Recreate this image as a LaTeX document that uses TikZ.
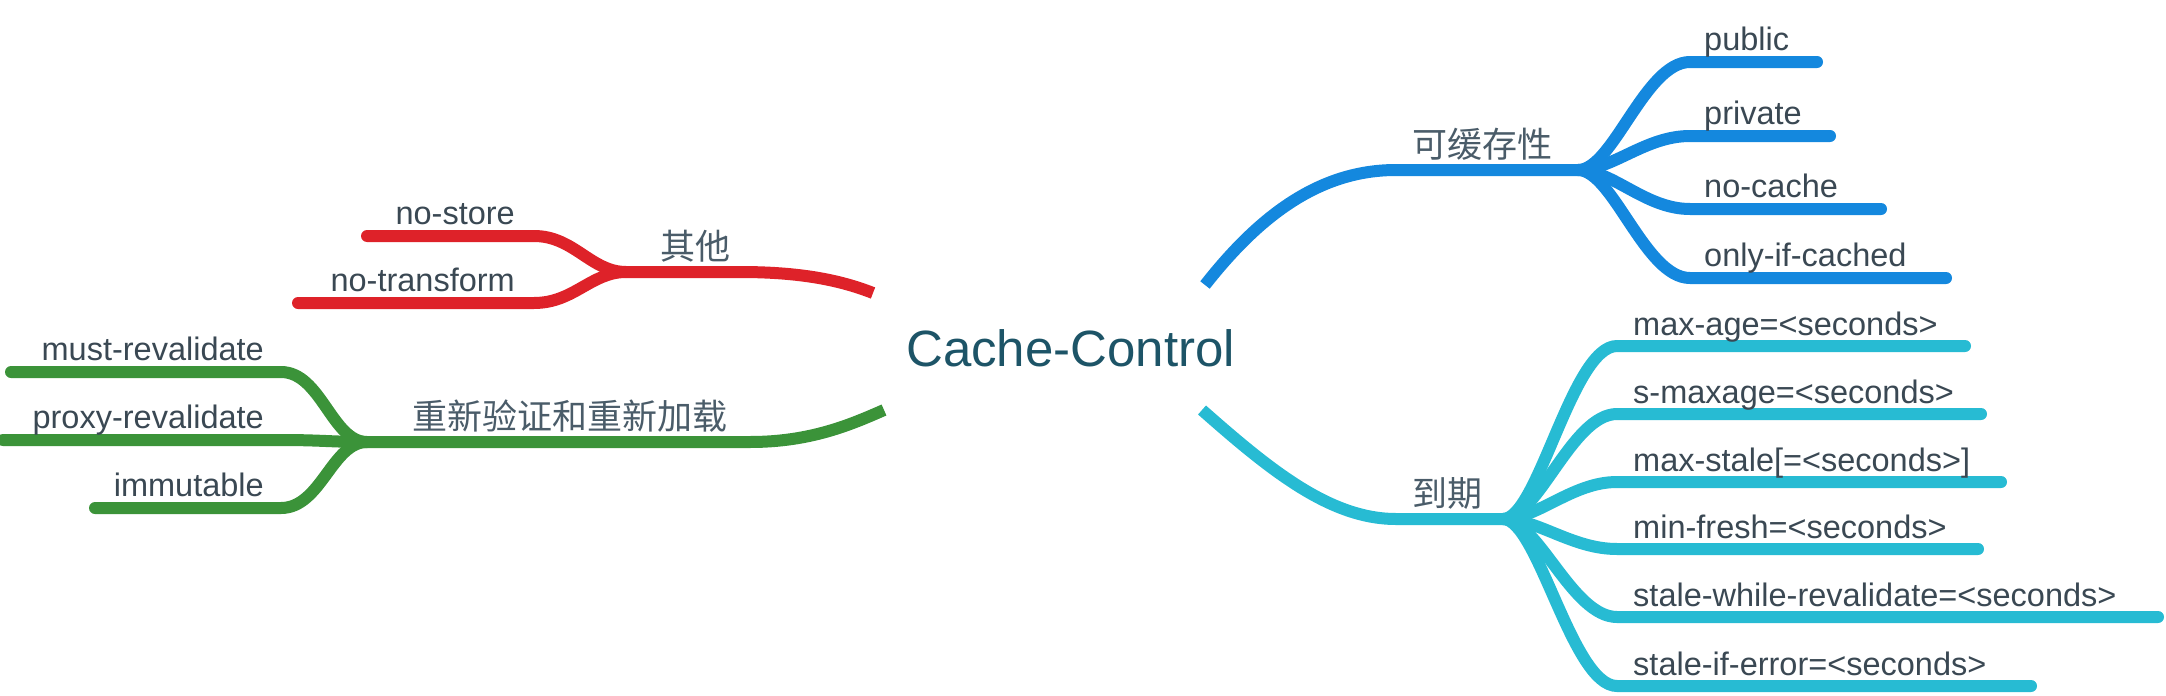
\documentclass[tikz,border=0pt]{standalone}
\usepackage{fontspec}
\setmainfont{Liberation Sans}
\newfontfamily\cjkfont{Noto Sans CJK SC}

\definecolor{cblue}{HTML}{1488DE}
\definecolor{cteal}{HTML}{27BBD3}
\definecolor{cred}{HTML}{DE2229}
\definecolor{cgreen}{HTML}{3B9339}
\definecolor{leaftext}{HTML}{3A4853}
\definecolor{topictext}{HTML}{4A5C69}
\definecolor{roottext}{HTML}{1D5467}

\tikzset{
    branch/.style={line width=12pt, line cap=round},
    trunk/.style={line width=12pt, line cap=butt},
    leaf/.style={font=\fontsize{32.5}{38}\selectfont, text=leaftext, inner sep=0pt},
    topic/.style={font=\cjkfont\fontsize{35}{40}\selectfont, text=topictext, inner sep=0pt},
}

\begin{document}
\begin{tikzpicture}[x=1pt, y=-1pt]
        \useasboundingbox (0,0) rectangle (2166,696);
        % root
        \node[font=\fontsize{51}{58}\selectfont, text=roottext, inner sep=0pt, anchor=base west] (root) at (906,366) {Cache-Control};
        \coordinate (rb) at (1205,285);
        \coordinate (rt) at (1202,410);
        \coordinate (rr) at (873,293);
        \coordinate (rg) at (884,410);
        \coordinate (jb) at (1578,170);
        \coordinate (jt) at (1503,519);
        \coordinate (jr) at (626,272);
        \coordinate (jg) at (367,442);
        % trunks
        \draw[trunk, cblue] (rb) .. controls (1260,215) and (1320,170) .. (1396,170) -- (jb);
        \draw[trunk, cteal] (rt) .. controls (1270,470) and (1330,519) .. (1396,519) -- (jt);
        \draw[trunk, cred] (rr) .. controls (840,280) and (800,272) .. (740,272) -- (jr);
        \draw[trunk, cgreen] (rg) .. controls (850,425) and (810,442) .. (750,442) -- (jg);
        % topics
        \node[topic, anchor=base west] (tb) at (1412,157) {可缓存性};
        \node[topic, anchor=base west] (tt) at (1412,506) {到期};
        \node[topic, anchor=base west] (tr) at (660,259) {其他};
        \node[topic, anchor=base west] (tg) at (412,429) {重新验证和重新加载};
        % leaves
        \foreach \txt/\y/\e [count=\i] in {public/62/1817, private/136/1830, no-cache/209/1881, only-if-cached/278/1946} {
            \draw[branch, cblue] (jb) .. controls +(35,0) and +(-45,0) .. (1690,\y) coordinate (b\i) -- (\e,\y);
            \node[leaf, anchor=base west] (lb\i) at (1704,\y-12) {\txt};
        }
        \foreach \txt/\y/\e [count=\i] in {max-age=<seconds>/346/1965, s-maxage=<seconds>/414/1981, max-stale{[}=<seconds>{]}/482/2001, min-fresh=<seconds>/549/1978, stale-while-revalidate=<seconds>/617/2158, stale-if-error=<seconds>/686/2031} {
            \draw[branch, cteal] (jt) .. controls +(35,0) and +(-45,0) .. (1617,\y) coordinate (t\i) -- (\e,\y);
            \node[leaf, anchor=base west] (lt\i) at (1633,\y-11) {\txt};
        }
        \foreach \txt/\y/\e [count=\i] in {no-store/236/367, no-transform/303/298} {
            \draw[branch, cred] (jr) .. controls +(-35,0) and +(40,0) .. (534,\y) coordinate (r\i) -- (\e,\y);
            \node[leaf, anchor=base east] (lr\i) at (515,\y-12) {\txt};
        }
        \foreach \txt/\y/\e [count=\i] in {must-revalidate/372/11, proxy-revalidate/440/3, immutable/508/95} {
            \draw[branch, cgreen] (jg) .. controls +(-35,0) and +(40,0) .. (281,\y) coordinate (g\i) -- (\e,\y);
            \node[leaf, anchor=base east] (lg\i) at (264,\y-12) {\txt};
        }
    \end{tikzpicture}
\end{document}
